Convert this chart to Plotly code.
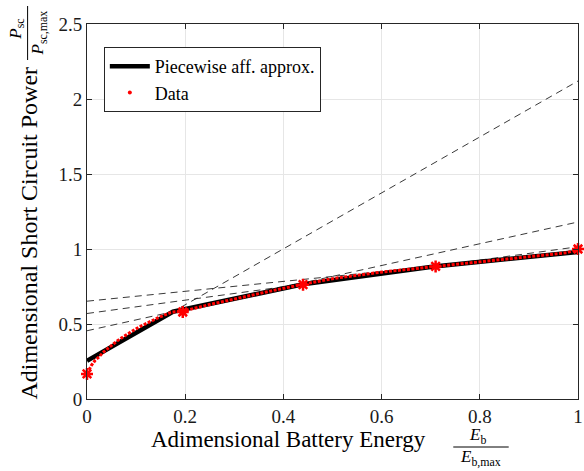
import plotly.graph_objects as go

# ---- data ----
data_x = [0.0, 0.009, 0.017, 0.025, 0.032, 0.040, 0.048, 0.056, 0.063, 0.071, 0.079,
          0.088, 0.096, 0.105, 0.113, 0.121, 0.128, 0.136, 0.145, 0.153, 0.162, 0.170,
          0.179, 0.195, 0.25, 0.315, 0.38, 0.44, 0.503, 0.597, 0.71, 0.78, 0.846, 0.92,
          0.977, 1.0]
data_y = [0.167, 0.224, 0.260, 0.282, 0.309, 0.331, 0.349, 0.371, 0.391, 0.409, 0.427,
          0.444, 0.460, 0.478, 0.491, 0.504, 0.516, 0.531, 0.542, 0.553, 0.567, 0.576,
          0.582, 0.585, 0.630, 0.678, 0.724, 0.765, 0.804, 0.845, 0.885, 0.910, 0.932,
          0.955, 0.975, 1.0]

break_x = [0.0, 0.195, 0.44, 0.71, 1.0]
break_y = [0.167, 0.58, 0.762, 0.884, 1.0]

pw_x = [0.0, 0.175, 0.44, 0.707, 1.0]
pw_y = [0.255, 0.582, 0.765, 0.884, 0.98]

tan_x = [0.0, 1.0]
tan_y = [[0.255, 2.12], [0.455, 1.18], [0.57, 1.015], [0.652, 0.982]]

x_ticks = [0, 0.2, 0.4, 0.6, 0.8, 1]
x_ticklabels = ["0", "0.2", "0.4", "0.6", "0.8", "1"]
y_ticks = [0, 0.5, 1, 1.5, 2, 2.5]
y_ticklabels = ["0", "0.5", "1", "1.5", "2", "2.5"]

FONT = "Liberation Serif"
W, H = 584, 471
L, R, T, B = 87, 1, 24, 72
PW, PH = W - L - R, H - T - B


def px(xp):
    return (xp - L) / PW


def py(yp):
    return (H - B - yp) / PH


fig = go.Figure()

for ty in tan_y:
    fig.add_trace(go.Scatter(x=tan_x, y=ty, mode="lines", showlegend=False,
                             line=dict(color="#222222", width=0.9, dash="7px,5px"),
                             hoverinfo="skip"))

fig.add_trace(go.Scatter(x=pw_x, y=pw_y, mode="lines", name="Piecewise aff. approx.",
                         line=dict(color="black", width=4.5)))

fig.add_trace(go.Scatter(x=data_x, y=data_y, mode="lines", showlegend=False,
                         line=dict(color="red", width=3, dash="3px,1.5px")))

fig.add_trace(go.Scatter(x=[None], y=[None], mode="markers", name="Data",
                         marker=dict(color="red", size=4)))

fig.add_trace(go.Scatter(x=break_x, y=break_y, mode="markers", showlegend=False,
                         marker=dict(symbol="asterisk-open", size=10, color="red",
                                     line=dict(color="red", width=2.5)),
                         cliponaxis=False))

axis_common = dict(showline=True, mirror="ticks", linecolor="#262626", linewidth=1,
                   ticks="inside", ticklen=5, tickcolor="#262626",
                   showgrid=True, gridcolor="#e6e6e6", gridwidth=1, zeroline=False,
                   ticklabeloverflow="allow",
                   tickfont=dict(family=FONT, size=19, color="#1a1a1a"))

fig.update_layout(
    width=W, height=H,
    margin=dict(l=L, r=R, t=T, b=B),
    paper_bgcolor="white", plot_bgcolor="white",
    xaxis=dict(range=[0, 1], tickvals=x_ticks, ticktext=x_ticklabels, **axis_common),
    yaxis=dict(range=[0, 2.5], tickvals=y_ticks, ticktext=y_ticklabels, **axis_common),
    legend=dict(x=px(104), y=py(47), xanchor="left", yanchor="top",
                bgcolor="white", bordercolor="#262626", borderwidth=1,
                font=dict(family=FONT, size=18, color="black"),
                tracegroupgap=0, itemwidth=40),
    showlegend=True,
)


def note(text, xp, yp, size, angle=0):
    return dict(text=text, x=px(xp), y=py(yp), xref="paper", yref="paper",
                xanchor="center", yanchor="middle", showarrow=False, textangle=angle,
                font=dict(family=FONT, size=size, color="black"))


ann = [
    # x title
    note("Adimensional Battery Energy", 291, 439, 23),
    note("<i>E</i><sub>b</sub>", 481, 436, 17),
    note("<i>E</i><sub>b,max</sub>", 485, 458, 17),
    # y title
    note("Adimensional Short Circuit Power", 28, 233, 24, -90),
    note("<i>P</i><sub>sc</sub>", 16, 29, 17, -90),
    note("<i>P</i><sub>sc,max</sub>", 39, 33, 17, -90),
]
fig.update_layout(annotations=ann)

shapes = [
    dict(type="line", xref="paper", yref="paper", x0=px(457), x1=px(513),
         y0=py(447), y1=py(447), line=dict(color="black", width=1)),
    dict(type="line", xref="paper", yref="paper", x0=px(27), x1=px(27),
         y0=py(6), y1=py(60), line=dict(color="black", width=1)),
]
fig.update_layout(shapes=shapes)

fig.write_html("out.html")
